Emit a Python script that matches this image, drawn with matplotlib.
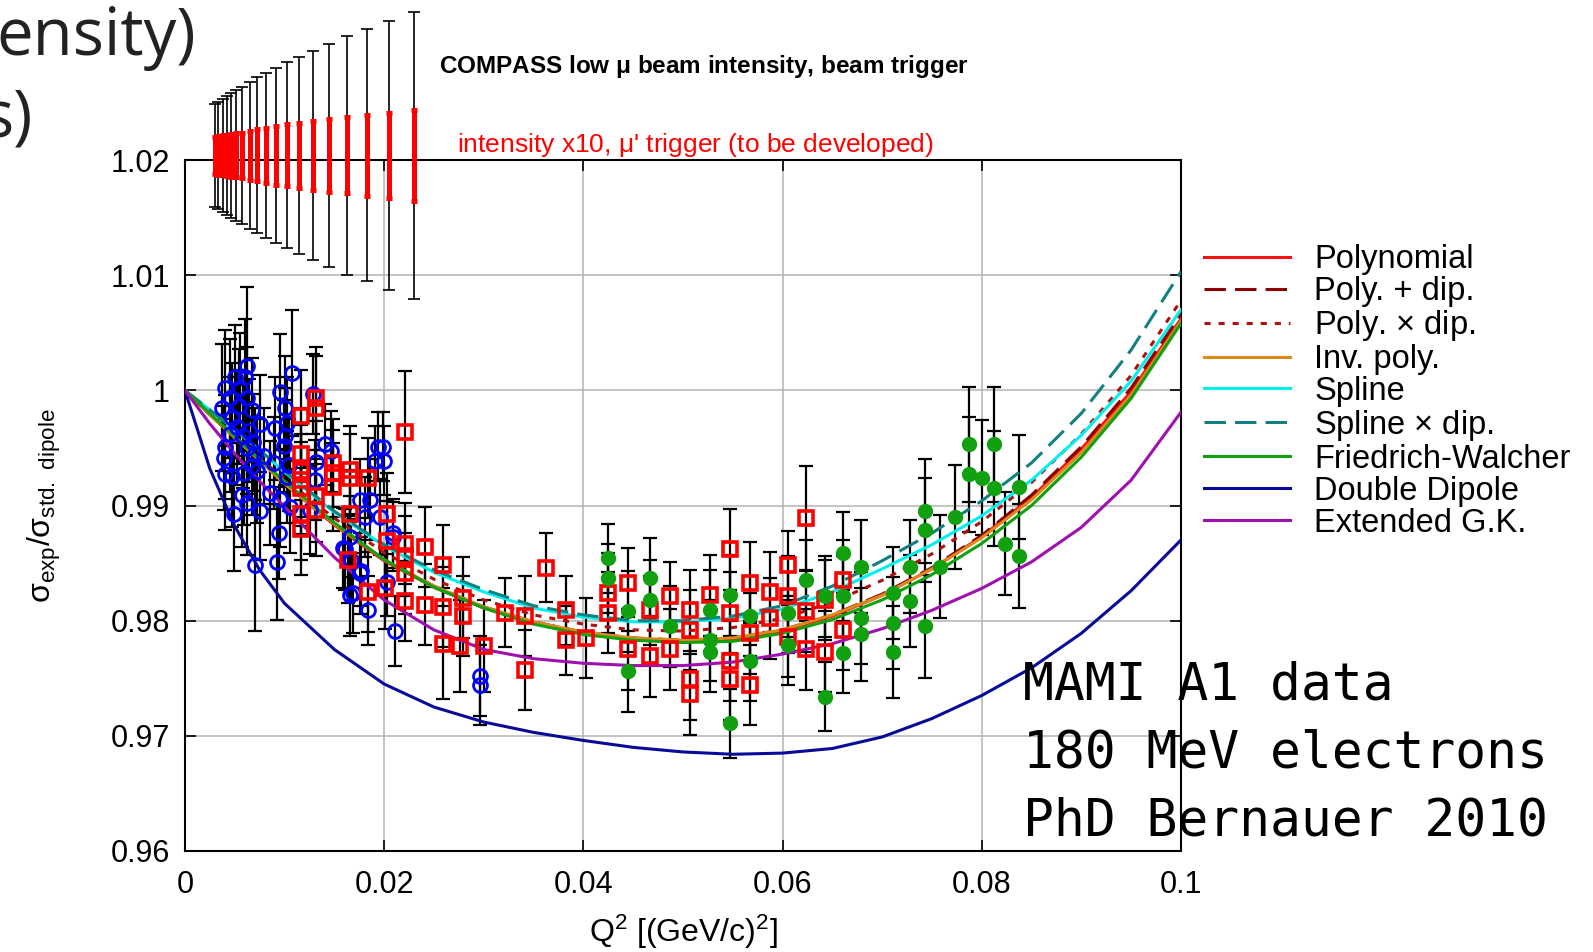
import matplotlib
matplotlib.use('Agg')
import matplotlib.pyplot as plt

plt.rcParams['font.family'] = ['Liberation Sans', 'DejaVu Sans']
plt.rcParams['mathtext.default'] = 'regular'

# fit curves at these Q^2 values
q2_fit = [0, 0.0025, 0.005, 0.0075, 0.01, 0.015, 0.02, 0.025, 0.03, 0.035, 0.04, 0.045,
          0.05, 0.055, 0.06, 0.065, 0.07, 0.075, 0.08, 0.085, 0.09, 0.095, 0.1]
poly = [1.0, .9979, .9959, .9939, .9919, .9883, .9852, .9829, .9811, .9798, .9789, .9784,
        .9782, .9784, .9791, .9804, .9822, .9845, .9873, .9907, .9949, .9999, 1.0062]
poly_plus_dip = [1.0, .9979, .9959, .9939, .9920, .9884, .9853, .9830, .9812, .9799, .9790, .9785,
                 .9783, .9785, .9792, .9805, .9823, .9846, .9874, .9909, .9951, 1.0002, 1.0066]
poly_times_dip = [1.0, .9979, .9960, .9941, .9923, .9889, .9859, .9836, .9818, .9805, .9797, .9792,
                  .9791, .9794, .9802, .9816, .9835, .9858, .9886, .9920, .9962, 1.0013, 1.0078]
inv_poly = [1.0, .9979, .9959, .9939, .9919, .9884, .9853, .9830, .9812, .9799, .9790, .9785,
            .9783, .9785, .9792, .9805, .9822, .9845, .9872, .9905, .9946, .9996, 1.0060]
spline = [1.0, .9983, .9966, .9948, .9929, .9894, .9865, .9842, .9825, .9811, .9803, .9799,
          .9799, .9802, .9810, .9825, .9845, .9866, .9891, .9922, .9961, 1.0008, 1.0070]
spline_times_dip = [1.0, .9983, .9966, .9948, .9930, .9895, .9866, .9844, .9827, .9813, .9805, .9800,
                    .9800, .9804, .9813, .9830, .9852, .9876, .9904, .9937, .9980, 1.0035, 1.0103]
friedrich_walcher = [1.0, .9980, .9960, .9940, .9921, .9885, .9853, .9829, .9811, .9797, .9788, .9783,
                     .9781, .9782, .9789, .9801, .9818, .9840, .9867, .9900, .9942, .9993, 1.0058]
double_dipole = [1.0, .9932, .9882, .9844, .9815, .9775, .9745, .9725, .9712, .9703, .9696, .9690,
                 .9686, .9684, .9685, .9689, .9699, .9715, .9735, .9759, .9789, .9826, .9870]
extended_gk = [1.0, .9971, .9945, .9921, .9899, .9855, .9818, .9792, .9775, .9767, .9763, .9761,
               .9761, .9764, .9771, .9780, .9793, .9809, .9828, .9851, .9881, .9922, .9981]

fit_labels = ['Polynomial', 'Poly. + dip.', r'Poly. $\times$ dip.', 'Inv. poly.', 'Spline',
              r'Spline $\times$ dip.', 'Friedrich-Walcher', 'Double Dipole', 'Extended G.K.']
fit_colors = ['#ff1010', '#8b0000', '#b01010', '#dc8a1c', '#00f0f0', '#138080', '#10a010',
              '#0a0a9a', '#a010b0']
fit_styles = ['-', '--', ':', '-', '-', '--', '-', '-', '-']

# MAMI data, blue circles
blue_x = [.0062, .0050, .0060, .0040, .0055, .0045, .0062, .0037, .0054, .0067, .0047, .0075,
          .0095, .0107, .0129, .0100, .0102, .0090, .0100, .0099, .0058, .0064, .0068, .0062,
          .0070, .0040, .0039, .0040, .0047, .0059, .0067, .0057, .0062, .0049, .0075, .0079,
          .0089, .0104, .0102, .0095, .0105, .0094, .0092, .0070, .0132, .0141, .0131, .0126,
          .0147, .0194, .0191, .0176, .0186, .0181, .0196, .0209, .0166, .0161, .0167, .0176,
          .0203, .0169, .0166, .0184, .0211, .0177, .0159, .0209, .0199, .0200, .0296, .0296,
          .0085, .0052, .0045, .0072]
blue_y = [1.0021, 1.0012, 1.0012, 1.0002, 1.0002, .9993, .9993, .9985, .9986, .9983, .9976, .9971,
          .9999, 1.0015, .9997, .9985, .9972, .9967, .9960, .9952, .9960, .9965, .9955, .9950,
          .9945, .9951, .9941, .9927, .9926, .9928, .9934, .9909, .9902, .9893, .9895, .9943,
          .9937, .9935, .9925, .9906, .9899, .9876, .9851, .9848, .9938, .9953, .9922, .9896,
          .9947, .9951, .9939, .9905, .9905, .9890, .9890, .9876, .9873, .9862, .9853, .9841,
          .9834, .9824, .9822, .9809, .9791, .9843, .9863, .9873, .9951, .9939, .9752, .9744,
          .9911, .9968, .9962, .9930]
blue_err = [.0069, .0045, .0050, .0050, .0048, .0052, .0045, .0055, .0050, .0045, .0048, .0042,
            .0050, .0055, .0035, .0045, .0040, .0045, .0042, .0040, .0045, .0045, .0042, .0040,
            .0040, .0045, .0045, .0048, .0045, .0045, .0042, .0045, .0045, .0050, .0042, .0042,
            .0040, .0040, .0040, .0042, .0040, .0040, .0050, .0057, .0035, .0035, .0035, .0038,
            .0035, .0030, .0030, .0035, .0035, .0035, .0033, .0030, .0035, .0035, .0035, .0035,
            .0030, .0035, .0035, .0030, .0030, .0030, .0035, .0030, .0030, .0030, .0035, .0035,
            .0045, .0050, .0050, .0045]

# MAMI data, red squares
red_x = [.0117, .0132, .0132, .0117, .0117, .0117, .0117, .0117, .0117, .0132, .0132, .0149,
         .0149, .0149, .0166, .0166, .0184, .0166, .0203, .0221, .0221, .0241, .0203, .0221,
         .0164, .0184, .0201, .0221, .0221, .0241, .0259, .0259, .0259, .0276, .0279, .0279,
         .0300, .0321, .0341, .0341, .0363, .0383, .0383, .0403, .0425, .0425, .0445, .0445,
         .0467, .0467, .0487, .0487, .0507, .0507, .0507, .0507, .0527, .0547, .0547, .0547,
         .0547, .0567, .0567, .0567, .0587, .0587, .0606, .0606, .0606, .0624, .0624, .0624,
         .0643, .0643, .0661, .0661]
red_y = [.9978, .9993, .9985, .9945, .9930, .9922, .9915, .9893, .9880, .9908, .9896, .9937,
         .9928, .9916, .9931, .9924, .9924, .9893, .9893, .9964, .9867, .9864, .9869, .9856,
         .9853, .9825, .9828, .9841, .9817, .9814, .9848, .9812, .9780, .9778, .9820, .9804,
         .9778, .9807, .9804, .9757, .9846, .9809, .9783, .9785, .9824, .9807, .9833, .9775,
         .9809, .9769, .9821, .9775, .9809, .9792, .9749, .9736, .9822, .9862, .9807, .9765,
         .9749, .9833, .9789, .9744, .9825, .9802, .9848, .9821, .9786, .9889, .9808, .9775,
         .9818, .9773, .9835, .9792]
red_err = [.0040, .0045, .0045, .0040, .0040, .0040, .0040, .0040, .0040, .0040, .0040, .0038,
           .0038, .0038, .0038, .0038, .0035, .0038, .0035, .0053, .0035, .0035, .0035, .0035,
           .0038, .0035, .0035, .0035, .0035, .0035, .0035, .0035, .0048, .0040, .0035, .0035,
           .0040, .0030, .0035, .0035, .0030, .0030, .0030, .0035, .0035, .0035, .0030, .0035,
           .0030, .0035, .0030, .0035, .0035, .0035, .0035, .0035, .0035, .0035, .0035, .0035,
           .0035, .0035, .0035, .0035, .0035, .0035, .0030, .0035, .0035, .0045, .0035, .0035,
           .0035, .0035, .0035, .0035]

# MAMI data, green dots
green_x = [.0425, .0425, .0445, .0445, .0467, .0467, .0487, .0527, .0527, .0527, .0547, .0547,
           .0567, .0567, .0606, .0606, .0624, .0643, .0643, .0661, .0661, .0661, .0679, .0679,
           .0679, .0711, .0711, .0711, .0728, .0728, .0743, .0743, .0743, .0758, .0773, .0787,
           .0787, .0800, .0812, .0812, .0823, .0837, .0837]
green_y = [.9854, .9837, .9808, .9756, .9837, .9818, .9795, .9809, .9783, .9773, .9822, .9711,
           .9804, .9765, .9807, .9779, .9835, .9821, .9734, .9859, .9821, .9772, .9847, .9802,
           .9788, .9824, .9798, .9773, .9847, .9817, .9895, .9879, .9795, .9847, .9890, .9953,
           .9927, .9924, .9953, .9915, .9867, .9916, .9856]
green_err = [.0030, .0030, .0035, .0035, .0035, .0035, .0035, .0035, .0035, .0035, .0035, .0030,
             .0035, .0035, .0035, .0035, .0035, .0035, .0030, .0035, .0035, .0035, .0040, .0040,
             .0040, .0040, .0040, .0040, .0040, .0040, .0045, .0045, .0045, .0045, .0045, .0050,
             .0050, .0050, .0050, .0050, .0045, .0045, .0045]

# COMPASS projection
compass_x = [.0030, .0033, .0038, .0042, .0046, .0051, .0057, .0065, .0072, .0081, .0091, .0102,
             .0115, .0129, .0145, .0163, .0183, .0205, .0230]
compass_y = [1.0204] * 19
compass_err_low = [.00446, .00466, .00489, .00515, .00544, .00567, .00596, .00639, .00677, .00718,
                   .00761, .00807, .00856, .00909, .00966, .01036, .01094, .01169, .01247]
compass_err_high = [.00162, .00168, .00174, .00179, .00185, .00191, .00197, .00211, .00226, .0024,
                    .00255, .00269, .00284, .00298, .00315, .0033, .0035, .0037, .00396]

x_ticks = [0, 0.02, 0.04, 0.06, 0.08, 0.1]
x_tick_labels = ['0', '0.02', '0.04', '0.06', '0.08', '0.1']
y_ticks = [0.96, 0.97, 0.98, 0.99, 1.0, 1.01, 1.02]
y_tick_labels = ['0.96', '0.97', '0.98', '0.99', '1', '1.01', '1.02']

fig = plt.figure(figsize=(15.93, 9.52), dpi=100)
ax = fig.add_axes([0.1161, 0.1061, 0.6252, 0.7258])

for xs, ys, es in [(blue_x, blue_y, blue_err), (red_x, red_y, red_err),
                   (green_x, green_y, green_err)]:
    ax.errorbar(xs, ys, yerr=es, fmt='none', ecolor='black', elinewidth=1.6,
                capsize=5, capthick=1.6, zorder=2)

for vals, lab, col, ls in zip([poly, poly_plus_dip, poly_times_dip, inv_poly, spline,
                               spline_times_dip, friedrich_walcher, double_dipole, extended_gk],
                              fit_labels, fit_colors, fit_styles):
    line, = ax.plot(q2_fit, vals, color=col, ls=ls, lw=2.2, label=lab, zorder=3)
    if ls == '--':
        line.set_dashes((7, 3))
    elif ls == ':':
        line.set_dashes((2, 2.6))

ax.plot(blue_x, blue_y, 'o', ms=10, mfc='none', mec='#0000ff', mew=2.0, zorder=4)
ax.plot(red_x, red_y, 's', ms=10, mfc='none', mec='#ff0000', mew=2.6, zorder=4)
ax.plot(green_x, green_y, 'o', ms=10, mfc='#10a010', mec='#10a010', zorder=4)

eb = ax.errorbar(compass_x, compass_y, yerr=compass_err_low, fmt='none', ecolor='black',
                 elinewidth=1.2, capsize=4, capthick=1.2, zorder=6)
for art in eb.lines[1] + eb.lines[2]:
    art.set_clip_on(False)
eb = ax.errorbar(compass_x, compass_y, yerr=compass_err_high, fmt='none', ecolor='#ff0000',
                 elinewidth=3.6, capsize=2.5, capthick=3.6, zorder=7)
for art in eb.lines[1] + eb.lines[2]:
    art.set_clip_on(False)

ax.set_xlim(0, 0.1)
ax.set_ylim(0.96, 1.02)
ax.set_xticks(x_ticks)
ax.set_xticklabels(x_tick_labels)
ax.set_yticks(y_ticks)
ax.set_yticklabels(y_tick_labels)
ax.grid(True, color='#b4b4b4', lw=1.1, zorder=0)
ax.set_axisbelow(True)
ax.tick_params(direction='in', length=8, width=1.2, top=True, right=True, labelsize=22)
ax.tick_params(axis='x', pad=14)
ax.tick_params(axis='y', pad=11)
for s in ax.spines.values():
    s.set_linewidth(1.5)

ax.set_xlabel(r'Q$^2$ [(GeV/c)$^2$]', fontsize=23, labelpad=9)
ax.set_ylabel(r'$\sigma_{exp}/\sigma_{std.\ dipole}$', fontsize=23, labelpad=34)

fig.legend(loc='upper left', bbox_to_anchor=(1204 / 1593, 1 - 244 / 952), frameon=False,
           fontsize=23.5, labelspacing=0.03, handlelength=2.64, handletextpad=0.74,
           borderpad=0, borderaxespad=0)

fig.text(439 / 1593, 1 - 73 / 952, r'COMPASS low $\mu$ beam intensity, beam trigger',
         fontsize=17.5, fontweight='bold', va='baseline')
fig.text(457 / 1593, 1 - 152 / 952, "intensity x10, $\\mu$' trigger (to be developed)",
         fontsize=19, color='#ff0000', va='baseline')

for i, line in enumerate(['MAMI A1 data', '180 MeV electrons', 'PhD Bernauer 2010']):
    fig.text(1023 / 1593, 1 - (686 + 68 * i) / 952, line, fontsize=37,
             family='DejaVu Sans Mono', va='center')

fig.text(196 / 1593, 1 - 55 / 952, 'ensity)', fontsize=47, family='Open Sans', color='#222222',
         ha='right', va='baseline')
fig.text(33 / 1593, 1 - 137 / 952, 's)', fontsize=47, family='Open Sans', color='#222222',
         ha='right', va='baseline')

fig.savefig('out.png', dpi=100)
